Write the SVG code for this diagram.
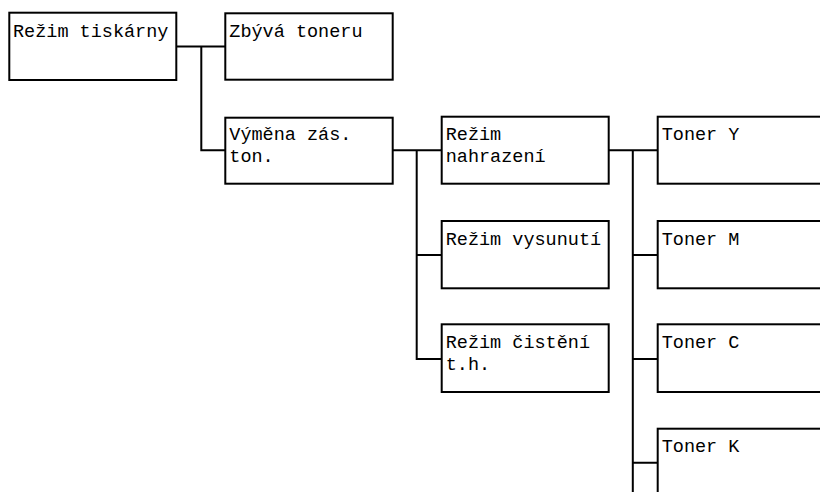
<svg xmlns="http://www.w3.org/2000/svg" width="820" height="492" viewBox="0 0 820 492">
<style>
rect.box{fill:#fff;stroke:#000;stroke-width:2}
.conn path{fill:none;stroke:#000;stroke-width:2}
text{font-family:"Liberation Mono","DejaVu Sans Mono",monospace;font-size:18.5px;fill:#000}
</style>
<rect width="820" height="492" fill="#fff"/>
<g id="connectors" class="conn">
<path d="M176 46.5H225M201.3 46.5V150.3H225"/>
<path d="M393 150.3H442M416.7 150.3V359H442M416.7 255H442"/>
<path d="M609 150.3H658M632.8 150.3V492M632.8 255H658M632.8 359H658M632.8 462.7H658"/>
</g>
<g id="n-rezim-tiskarny"><rect class="box" x="9.3" y="12.7" width="167" height="67.3"/><text x="13" y="36.5">Režim tiskárny</text></g>
<g id="n-zbyva-toneru"><rect class="box" x="225.3" y="13.3" width="167.4" height="66.4"/><text x="229.3" y="36.5">Zbývá toneru</text></g>
<g id="n-vymena"><rect class="box" x="225.3" y="117.7" width="167.4" height="66"/><text x="229.3" y="140.3">Výměna zás.</text><text x="229.3" y="162">ton.</text></g>
<g id="n-rezim-nahrazeni"><rect class="box" x="441.7" y="116.7" width="167" height="67"/><text x="445.7" y="140.3">Režim</text><text x="445.7" y="162">nahrazení</text></g>
<g id="n-rezim-vysunuti"><rect class="box" x="441.7" y="221" width="167" height="67.3"/><text x="445.7" y="244.5">Režim vysunutí</text></g>
<g id="n-rezim-cisteni"><rect class="box" x="441.7" y="324.3" width="167" height="67.7"/><text x="445.7" y="347.8">Režim čistění</text><text x="445.7" y="369.5">t.h.</text></g>
<g id="n-toner-y"><rect class="box" x="657.7" y="116.7" width="180" height="67"/><text x="661.7" y="140.3">Toner Y</text></g>
<g id="n-toner-m"><rect class="box" x="657.7" y="221" width="180" height="67.3"/><text x="661.7" y="244.5">Toner M</text></g>
<g id="n-toner-c"><rect class="box" x="657.7" y="324.3" width="180" height="67.7"/><text x="661.7" y="347.8">Toner C</text></g>
<g id="n-toner-k"><rect class="box" x="657.7" y="428.7" width="180" height="80"/><text x="661.7" y="452.2">Toner K</text></g>
</svg>
